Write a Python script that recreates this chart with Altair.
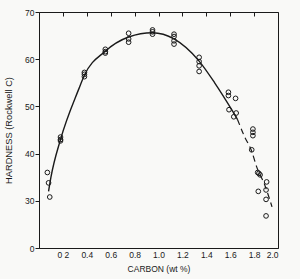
import altair as alt
import pandas as pd

# measured points: carbon (wt %) and hardness (Rockwell C)
pt_carbon = [0.07, 0.08, 0.09,
             0.18, 0.18, 0.18,
             0.38, 0.38, 0.38,
             0.555, 0.555, 0.555,
             0.75, 0.75, 0.75,
             0.95, 0.95, 0.95,
             1.13, 1.13, 1.13, 1.13,
             1.34, 1.34, 1.34, 1.34,
             1.585, 1.585, 1.645, 1.59, 1.65, 1.63,
             1.79, 1.79, 1.79, 1.78,
             1.83, 1.84, 1.85,
             1.835, 1.905, 1.90, 1.90, 1.90]
pt_hard = [36.0, 33.8, 30.8,
           43.5, 43.0, 42.7,
           57.2, 56.8, 56.3,
           62.1, 61.6, 61.3,
           65.5, 64.3, 63.6,
           66.2, 65.8, 65.3,
           65.3, 64.8, 63.9, 63.2,
           60.4, 59.5, 58.6, 57.4,
           53.0, 52.3, 51.7, 49.3, 48.6, 47.8,
           45.2, 44.5, 43.8, 40.8,
           36.0, 35.8, 35.5,
           32.0, 34.0, 32.3, 30.3, 26.8]

# fitted curve (solid part)
curve_carbon = [0.08, 0.10, 0.18, 0.33, 0.38, 0.55, 0.75, 0.95, 1.13, 1.34, 1.47, 1.62, 1.66]
curve_hard = [32.0, 35.0, 43.0, 53.5, 56.6, 61.6, 64.7, 65.6, 64.3, 59.6, 55.0, 49.0, 47.3]

# dashed extrapolation
dash_carbon = [1.66, 1.72, 1.78, 1.82, 1.89, 1.95]
dash_hard = [47.3, 43.6, 40.5, 37.3, 33.3, 28.7]

x_ticks = [0.2, 0.4, 0.6, 0.8, 1.0, 1.2, 1.4, 1.6, 1.8, 2.0]
y_ticks = [20, 30, 40, 50, 60, 70]

pts = pd.DataFrame({"c": pt_carbon, "h": pt_hard})
curve = pd.DataFrame({"c": curve_carbon, "h": curve_hard})
dash = pd.DataFrame({"c": dash_carbon, "h": dash_hard})

FONT = "Liberation Sans"
INK = "#1a1a1a"

x_scale = alt.Scale(domain=[0, 2.0], nice=False, zero=False)
y_scale = alt.Scale(domain=[20, 70], nice=False, zero=False)

y_enc = alt.Y("h:Q", scale=y_scale, axis=alt.Axis(
    values=y_ticks, labelExpr="datum.value == 20 ? '0' : datum.label",
    title="HARDNESS (Rockwell C)", titleFont=FONT, titleFontSize=9.3,
    titleFontWeight="normal", titleColor=INK, titleX=-26,
    labelFont=FONT, labelFontSize=8.5, labelColor=INK, labelPadding=1,
    tickSize=4, tickColor=INK, domainColor=INK, grid=False))

points = alt.Chart(pts).mark_point(
    shape="circle", filled=False, size=22, color=INK, strokeWidth=1, opacity=1
).encode(
    x=alt.X("c:Q", scale=x_scale, axis=alt.Axis(
        values=x_ticks, format=".1f",
        labelExpr="datum.value == 0.2 ? '0 2' : datum.label",
        title="CARBON (wt %)", titleFont=FONT, titleFontSize=8.5,
        titleFontWeight="normal", titleColor=INK, titlePadding=6,
        labelFont=FONT, labelFontSize=8.5, labelColor=INK, labelPadding=2,
        ticks=False, domainColor=INK, grid=False)),
    y=y_enc,
)

solid = alt.Chart(curve).mark_line(
    color=INK, strokeWidth=1.4, interpolate="monotone"
).encode(
    x=alt.X("c:Q", scale=x_scale, axis=None),
    y=y_enc,
)

dashed = alt.Chart(dash).mark_line(
    color=INK, strokeWidth=1.2, strokeDash=[6, 4], interpolate="monotone"
).encode(
    x=alt.X("c:Q", scale=x_scale, axis=alt.Axis(
        values=x_ticks, labels=False, domain=False, title=None,
        ticks=True, tickSize=4, tickColor=INK, offset=-4, grid=False)),
    y=y_enc,
)

chart = alt.layer(points, solid, dashed).resolve_scale(x="independent").properties(
    width=239, height=236,
    autosize=alt.AutoSizeParams(type="none"),
    padding={"left": 39, "top": 12, "right": 22, "bottom": 31},
    background="#f9f9f7",
).configure_view(stroke=INK, strokeWidth=1)

chart.save("out.html", embed_options={"renderer": "svg", "actions": False})
